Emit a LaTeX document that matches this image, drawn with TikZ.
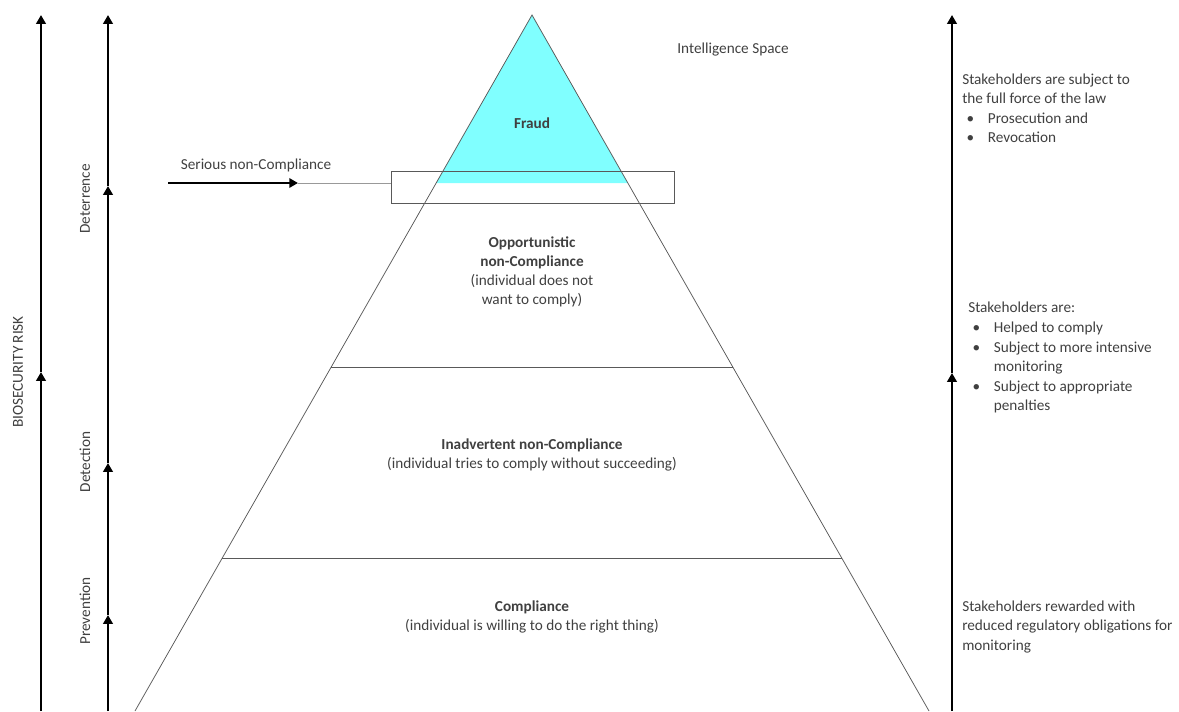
\documentclass[tikz,border=0pt]{standalone}
\usepackage{fontspec}
\setmainfont{Carlito}
\usetikzlibrary{arrows.meta,calc}
\definecolor{fraudcyan}{RGB}{128,255,255}
\definecolor{txtgray}{RGB}{64,64,64}
\newcommand{\blt}{\hspace*{3.5pt}\makebox[17pt][l]{\textbullet}}
\newcommand{\cnt}{\hspace*{20.5pt}}

\begin{document}
\begin{tikzpicture}[x=0.8pt, y=-0.8pt,
    txt/.style={font=\fontsize{12.2}{15.3}\selectfont, text=txtgray, inner sep=0pt},
    mid/.style={txt, align=center},
    side/.style={txt, align=left, anchor=north west},
    axis/.style={line width=1.8pt, -{Triangle[width=7.5pt,length=7pt]}},
    edge/.style={draw=black!65, line width=0.6pt}]
            \useasboundingbox (0, 0) rectangle (1179, 711);
            % the three axes
            \coordinate (r1) at (41, 711); \coordinate (r2) at (41, 372); \coordinate (r3) at (41, 15);
            \draw [axis] (r1) -- (r2);
            \draw [axis] (r2) -- (r3);
            \foreach \y [count=\i] in {711, 615, 463, 186, 15}
                \coordinate (s\i) at (108, \y);
            \foreach \i/\j in {1/2, 2/3, 3/4, 4/5}
                \draw [axis] (s\i) -- (s\j);
            \coordinate (t1) at (952, 711); \coordinate (t2) at (952, 373); \coordinate (t3) at (952, 15);
            \draw [axis] (t1) -- (t2);
            \draw [axis] (t2) -- (t3);
            \node [txt, rotate=90] (risk) at (18, 372) {BIOSECURITY RISK};
            \node [txt, rotate=90] (deter) at (85, 199) {Deterrence};
            \node [txt, rotate=90] (detect) at (85, 462) {Detection};
            \node [txt, rotate=90] (prev) at (85, 611) {Prevention};
            % pyramid
            \coordinate (apex) at (532, 15);
            \coordinate (bl) at (135, 711);
            \coordinate (br) at (929, 711);
            \fill [fraudcyan] (apex) -- ($(apex)!0.2414!(bl)$) -- ($(apex)!0.2414!(br)$) -- cycle;
            \draw [edge] (bl) -- (apex) -- (br);
            \draw [edge] ($(apex)!0.5057!(bl)$) -- ($(apex)!0.5057!(br)$);
            \draw [edge] ($(apex)!0.7802!(bl)$) -- ($(apex)!0.7802!(br)$);
            \node [edge, draw, minimum width=226.4pt, minimum height=25.6pt, inner sep=0pt] (box) at (532.5, 187) {};
            % serious non-compliance
            \coordinate (ser) at (168, 183);
            \coordinate (serhead) at (298, 183);
            \draw [axis] (ser) -- (serhead);
            \draw [draw=black!40, line width=0.6pt] (serhead) -- (serhead -| box.west);
            \node [txt] (serious) at (256, 165) {Serious non-Compliance};
            \node [txt] (intel) at (733, 50) {Intelligence Space};
            % layers
            \node [mid] (fraud) at (532, 123) {\textbf{Fraud}};
            \node [mid] (opp) at (532, 272) {\textbf{Opportunistic}\\\textbf{non-Compliance}\\(individual does not\\want to comply)};
            \node [mid] (inadv) at (532, 455) {\textbf{Inadvertent non-Compliance}\\(individual tries to comply without succeeding)};
            \node [mid] (comp) at (532, 617) {\textbf{Compliance}\\(individual is willing to do the right thing)};
            % responses
            \node [side] (law) at (962, 74) {Stakeholders are subject to\\the full force of the law\\\blt Prosecution and\\\blt Revocation};
            \node [side, font=\fontsize{12.2}{15.7}\selectfont] (help) at (968, 302) {Stakeholders are:\\\blt Helped to comply\\\blt Subject to more intensive\\\cnt monitoring\\\blt Subject to appropriate\\\cnt penalties};
            \node [side] (reward) at (962, 601) {Stakeholders rewarded with\\reduced regulatory obligations for\\monitoring};
        \end{tikzpicture}
\end{document}
